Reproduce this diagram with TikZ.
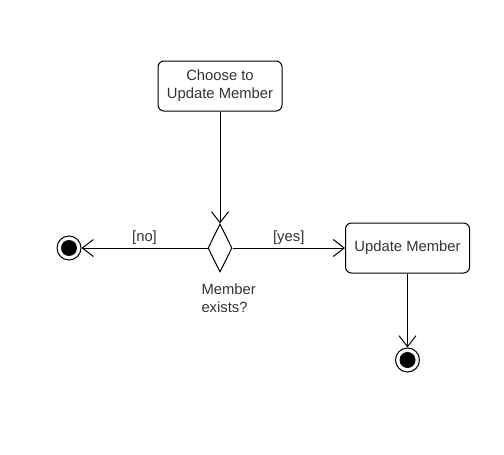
\documentclass[tikz,border=0pt]{standalone}
\usepackage{fontspec}
\setmainfont{Liberation Sans}
\usetikzlibrary{shapes.geometric,arrows.meta}
\tikzset{
    activity/.style={draw,rounded corners=6pt,minimum width=124pt,minimum height=50pt,align=center,inner sep=0pt},
    decision/.style={draw,diamond,minimum width=24pt,minimum height=48pt,inner sep=0pt},
    finalnode/.style={draw,circle,minimum size=24pt,inner sep=0pt},
    flow/.style={-{Straight Barb[length=11pt,width=17pt]}}
}
\begin{document}
\begin{tikzpicture}[x=1pt,y=-1pt,line width=1pt,font=\fontsize{14.8}{18}\selectfont,text=black!80]
                \useasboundingbox (0,0) rectangle (504,455);
                \node [activity] (choose) at (220,86) {Choose to\\Update Member};
                \node [decision] (exists) at (220,248) {};
                \node [activity] (update) at (407.5,248) {Update Member};
                \node [finalnode] (endl) at (69,248) {};
                \fill (endl) circle (8);
                \node [finalnode] (endr) at (407.5,360) {};
                \fill (endr) circle (8);
                \node [anchor=north west,align=left,inner sep=0pt] (question) at (201,283) {Member\\exists?};
                \draw [flow] (choose) -- (exists);
                \draw [flow] (exists) -- node [midway,above,inner sep=3pt] {[no]} (endl);
                \draw [flow] (exists) -- node [midway,above,inner sep=3pt] {[yes]} (update);
                \draw [flow] (update) -- (endr);
            \end{tikzpicture}
\end{document}
